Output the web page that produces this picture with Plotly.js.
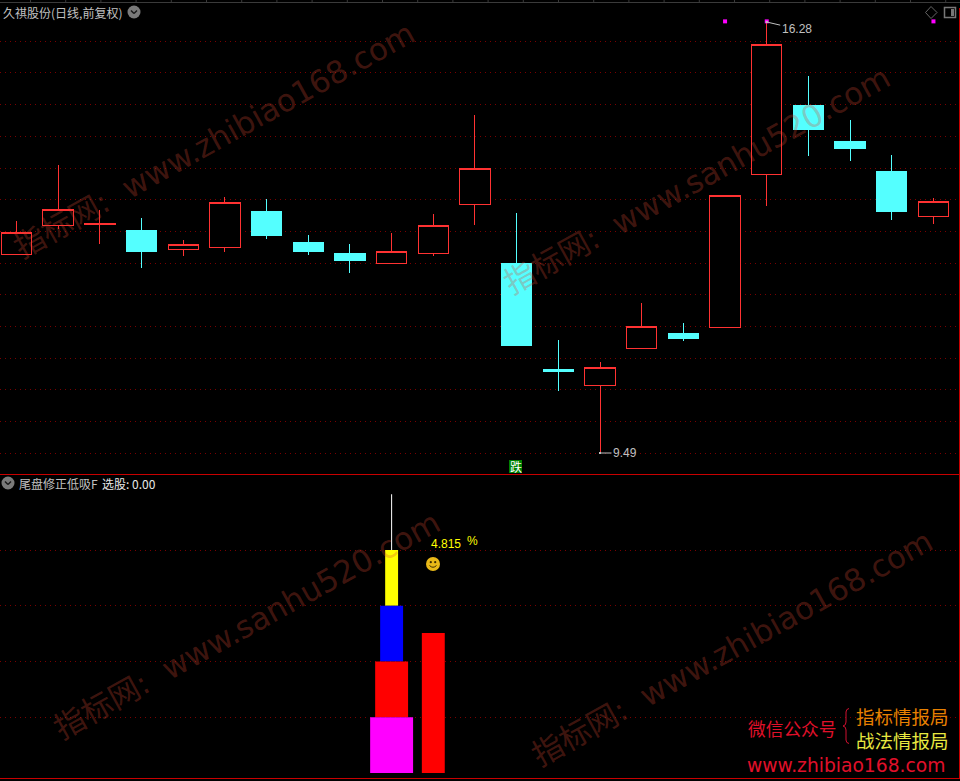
<!DOCTYPE html>
<html><head><meta charset="utf-8">
<script src="https://cdn.plot.ly/plotly-3.0.1.min.js"></script>
<style>html,body{margin:0;padding:0;background:#000}#c{width:960px;height:781px}
.trace.boxes path{shape-rendering:crispEdges}</style>
</head><body><div id="c"></div>
<script>
var sessions = [0,1,2,3,4,5,6,7,8,9,10,11,12,13,14,15,16,17,18,19,20,21,22];
var opens  = [12.61,13.07,13.09,13.00,12.70,12.72,13.30,12.81,12.64,12.48,12.64,13.40,12.48,10.81,10.56,11.14,11.37,11.46,13.87,14.97,14.39,13.93,13.22];
var highs  = [13.15,14.03,13.32,13.19,12.85,13.52,13.49,12.93,12.78,12.96,13.26,14.81,13.27,11.27,10.92,11.85,11.54,13.55,16.28,15.43,14.74,14.18,13.51];
var lows   = [12.61,13.02,12.78,12.40,12.59,12.66,12.86,12.61,12.33,12.48,12.59,13.08,11.19,10.47,9.49,11.14,11.25,11.46,13.38,14.17,14.09,13.16,13.10];
var closes = [12.97,13.33,13.11,12.66,12.77,13.43,12.91,12.67,12.53,12.66,13.07,13.98,11.19,10.77,10.83,11.48,11.30,13.55,15.92,14.59,14.28,13.30,13.46];
var priceGrid = [15.98,15.49,14.98,14.48,13.97,13.49,12.98,12.48,11.98,11.48,10.98,10.49,9.99,9.49];
var signalDays = [17,18,22];
var signalLevel = [16.29,16.29,16.29];
var lowerGrid = [1,2,3,4];
var towerDay = 9;
var towerBase = [0,1,2,3];
var towerHeight = [1,1,1,1];
var towerNeedle = [4,5];
var sideDay = 10;
var sideValue = 2.51;
var priceHigh = "16.28", priceLow = "9.49";
var titleTop = "久祺股份(日线,前复权)";
var titleLow = "尾盘修正低吸F";
var pickLabel = "选股: 0.00";
var pctValue = "4.815", pctUnit = "%";
var fallSignal = "跌";
var wmA = "指标网:  www.zhibiao168.com", wmB = "指标网:  www.sanhu520.com";
var promo = ["微信公众号","指标情报局","战法情报局","www.zhibiao168.com"];

var W=960,H=781;
function px(x){return x/W;} function py(y){return 1-y/H;}
var RED='#ff3232', CYAN='#54ffff';
var sans='"Liberation Sans","Noto Sans CJK SC",sans-serif';
var cjk='"Noto Sans CJK SC",sans-serif';

var traces=[{
  type:'candlestick',x:sessions,open:opens,high:highs,low:lows,close:closes,xaxis:'x',yaxis:'y',
  increasing:{line:{color:RED,width:1},fillcolor:'#000'},
  decreasing:{line:{color:CYAN,width:1},fillcolor:CYAN},
  whiskerwidth:0,hoverinfo:'skip'
},{
  type:'scatter',mode:'markers',x:signalDays,y:signalLevel,xaxis:'x',yaxis:'y',
  marker:{symbol:'square',size:4,color:'#ff00ff'},hoverinfo:'skip'
}];
var towerColors=['#ff00ff','#ff0000','#0000ff','#ffff00'];
var towerWidths=[1.03,0.79,0.55,0.31];
[3,2,1,0].forEach(function(i){
  traces.push({type:'bar',x:[towerDay],y:[towerHeight[i]],base:[towerBase[i]],width:[towerWidths[i]],
    xaxis:'x2',yaxis:'y2',marker:{color:towerColors[i],line:{width:0}},hoverinfo:'skip'});
});
traces.push({type:'bar',x:[sideDay],y:[sideValue],base:[0],width:[0.55],xaxis:'x2',yaxis:'y2',
  marker:{color:'#ff0000',line:{width:0}},hoverinfo:'skip'});
traces.push({type:'scatter',mode:'lines',x:[towerDay,towerDay],y:towerNeedle,xaxis:'x2',yaxis:'y2',
  line:{color:'#ffffff',width:1},hoverinfo:'skip'});

function wm(text,x,y,size){return {text:text,xref:'paper',yref:'paper',x:px(x),y:py(y),xanchor:'center',yanchor:'middle',
  showarrow:false,textangle:-29,font:{family:'"DejaVu Sans","Noto Sans CJK SC",sans-serif',size:size,color:'rgba(217,73,50,0.3)'}};}
function lab(text,x,y,size,color,anchor,fam){return {text:text,xref:'paper',yref:'paper',x:px(x),y:py(y),xanchor:anchor||'left',yanchor:'middle',
  showarrow:false,font:{family:fam||sans,size:size,color:color}};}

var annotations=[
  wm(wmA,214,140,31),wm(wmB,697,180,31),wm(wmB,247,625,31),wm(wmA,732,648,31),
  lab(titleTop,0.5,12,12,'#c0c0c0','left',cjk),
  lab(titleLow,17,483,12,'#c0c0c0','left',cjk),
  lab(pickLabel,100,483,12,'#e8e8e8','left',cjk),
  lab(pctValue,429,544,12,'#ffff00'),
  lab(pctUnit,465,541,12,'#ffff00'),
  {text:priceHigh,xref:'x',yref:'y',x:18,y:16.28,ax:30,ay:7,axref:'pixel',ayref:'pixel',showarrow:true,arrowhead:7,arrowsize:0.5,arrowwidth:1,arrowcolor:'#c0c0c0',font:{family:sans,size:12,color:'#c0c0c0'}},
  {text:priceLow,xref:'x',yref:'y',x:14,y:9.49,ax:25,ay:0,axref:'pixel',ayref:'pixel',showarrow:true,arrowhead:7,arrowsize:0.5,arrowwidth:1,arrowcolor:'#c0c0c0',font:{family:sans,size:12,color:'#c0c0c0'}},
  {text:fallSignal,xref:'x',yref:'paper',x:12,xshift:-1,y:py(466.5),showarrow:false,font:{family:cjk,size:12,color:'#ffffff'}},
  lab(promo[0],745.5,728,17.7,'#e0102a','left',cjk),
  lab(promo[1],853.5,716,18.5,'#e88000','left',cjk),
  lab(promo[2],853.5,740,18.5,'#e8e840','left',cjk),
  lab(promo[3],745,765,18.7,'#e0102a','left','"DejaVu Sans",sans-serif')
];

function line(x0,y0,x1,y1,c,w){return {type:'line',xref:'paper',yref:'paper',x0:px(x0),y0:py(y0),x1:px(x1),y1:py(y1),line:{color:c,width:w||1},layer:'above'};}
function chevron(cx,cy){return [
  {type:'circle',xref:'paper',yref:'paper',x0:px(cx-6.5),x1:px(cx+6.5),y0:py(cy-6.5),y1:py(cy+6.5),fillcolor:'#7a7a7a',line:{width:0},layer:'above'},
  line(cx-3,cy-1.5,cx,cy+1.5,'#1a1a1a',1.5),line(cx,cy+1.5,cx+3,cy-1.5,'#1a1a1a',1.5)];}
var shapes=[
  line(0,474.5,960,474.5,'#c80000',1),
  line(0,778.5,960,778.5,'#c80000',1),
  line(959.5,8,959.5,778,'#c80000',1),
  line(0,2.5,960,2.5,'#3a3a3a',1)
];
for(var tx=30;tx<960;tx+=35.2){shapes.push(line(tx+0.5,0,tx+0.5,2,'#3a3a3a',1));}
shapes=shapes.concat(chevron(134,12),chevron(8,483));
shapes.push({type:'rect',xref:'paper',yref:'paper',x0:px(509),x1:px(522),y0:py(460),y1:py(473),fillcolor:'#008000',line:{width:0},layer:'above'});
shapes.push({type:'path',xref:'paper',yref:'paper',path:'M '+px(931)+' '+py(6.5)+' L '+px(937)+' '+py(12.5)+' L '+px(931)+' '+py(18.5)+' L '+px(925.5)+' '+py(12.5)+' Z',line:{color:'#666',width:1},layer:'above'});
shapes.push({type:'rect',xref:'paper',yref:'paper',x0:px(944.5),x1:px(955.5),y0:py(7.5),y1:py(17.5),line:{color:'#777',width:1.5},layer:'above'});
shapes.push({type:'rect',xref:'paper',yref:'paper',x0:px(951),x1:px(954),y0:py(9),y1:py(16),fillcolor:'#777',line:{width:0},layer:'above'});
// curly brace next to the promo text
function P(x,y){return px(x)+' '+py(y);}
shapes.push({type:'path',xref:'paper',yref:'paper',layer:'above',line:{color:'#d01030',width:1},
  path:'M '+P(849,708.5)+' Q '+P(846,709)+' '+P(846,712)+' L '+P(846,722)+' Q '+P(846,725.5)+' '+P(843,726)+' Q '+P(846,726.5)+' '+P(846,730)+' L '+P(846,740)+' Q '+P(846,743)+' '+P(849,743.5)});

var smiley='data:image/svg+xml;utf8,'+encodeURIComponent('<svg xmlns="http://www.w3.org/2000/svg" width="14" height="14" viewBox="0 0 14 14"><circle cx="7" cy="7" r="7" fill="#e8b818"/><circle cx="4.8" cy="5.2" r="1.1" fill="#3a2a00"/><circle cx="9.2" cy="5.2" r="1.1" fill="#3a2a00"/><path d="M3.5 8.5 Q7 12 10.5 8.5" stroke="#3a2a00" stroke-width="1" fill="none"/></svg>');

var gridC='#7a0000';
var xr=[-16.5/41.68,(960-16.5)/41.68];
var layout={
  width:W,height:H,margin:{l:0,r:0,t:0,b:0},paper_bgcolor:'#000',plot_bgcolor:'#000',showlegend:false,
  boxgap:0.27,boxgroupgap:0,barmode:'overlay',dragmode:false,
  xaxis:{domain:[0,1],range:xr,anchor:'y',visible:true,showgrid:false,zeroline:false,showticklabels:false,ticks:'',showline:false,rangeslider:{visible:false},fixedrange:true},
  xaxis2:{domain:[0,1],range:xr,anchor:'y2',showgrid:false,zeroline:false,showticklabels:false,ticks:'',showline:false,fixedrange:true},
  yaxis:{domain:[1-474/H,1],range:[16.6266-474*0.015754,16.6266],tickmode:'array',tickvals:priceGrid,showticklabels:false,ticks:'',showgrid:true,gridcolor:gridC,gridwidth:1,griddash:'1px,4px',zeroline:false,showline:false,fixedrange:true},
  yaxis2:{domain:[(H-778)/H,(H-475)/H],range:[(773-778)/55.75,(773-475)/55.75],tickmode:'array',tickvals:lowerGrid,showticklabels:false,ticks:'',showgrid:true,gridcolor:gridC,gridwidth:1,griddash:'1px,4px',zeroline:false,showline:false,fixedrange:true},
  annotations:annotations,shapes:shapes,
  images:[{source:smiley,xref:'paper',yref:'paper',x:px(426),y:py(557),sizex:14/W,sizey:14/H,xanchor:'left',yanchor:'top',sizing:'stretch',layer:'above'}]
};
Plotly.newPlot('c',traces,layout,{displayModeBar:false,staticPlot:true});
</script></body></html>
